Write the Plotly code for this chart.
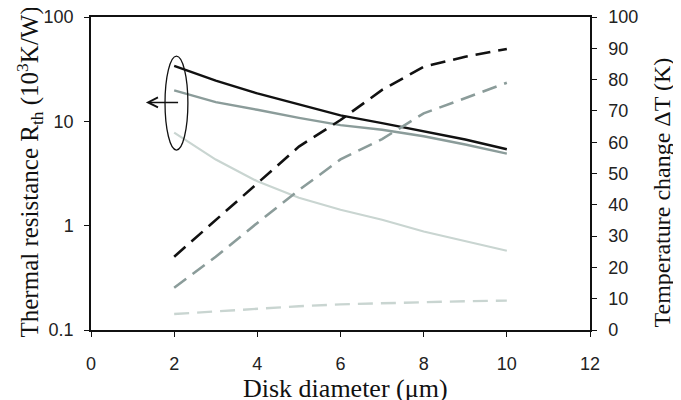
import plotly.graph_objects as go

diameter = [2, 3, 4, 5, 6, 7, 8, 9, 10]

# Thermal resistance (10^3 K/W), left log axis
rth_black = [34, 24.5, 18.5, 14.5, 11.4, 9.6, 8.0, 6.7, 5.4]
rth_gray = [19.8, 15.3, 12.9, 10.8, 9.2, 8.3, 7.2, 6.0, 4.9]
rth_light = [7.8, 4.3, 2.66, 1.85, 1.42, 1.14, 0.88, 0.71, 0.575]

# Temperature change (K), right linear axis
dt_black = [23.4, 35.1, 47.0, 58.6, 67.1, 76.7, 84.1, 87.3, 89.8]
dt_gray = [13.5, 23.4, 34.2, 44.7, 54.5, 61.0, 69.2, 74.0, 79.0]
dt_light = [5.1, 6.0, 6.9, 7.6, 8.2, 8.6, 9.0, 9.2, 9.4]

x_ticks = [0, 2, 4, 6, 8, 10, 12]
y_ticks = [0.1, 1, 10, 100]
y_tick_text = ["0.1", "1", "10", "100"]
y2_ticks = [0, 10, 20, 30, 40, 50, 60, 70, 80, 90, 100]

x_title = "Disk diameter (μm)"
y_title = "Thermal resistance R<sub>th</sub> (10<sup>3</sup>K/W)"
y2_title = "Temperature change ΔT (K)"

BLACK = "#111111"
GRAY = "#8b9c9a"
LIGHT = "#c9d5d1"
DASH = "15px,8px"

fig = go.Figure()
fig.add_trace(go.Scatter(x=diameter, y=rth_black, mode="lines",
                         line=dict(color=BLACK, width=2.4), yaxis="y"))
fig.add_trace(go.Scatter(x=diameter, y=rth_gray, mode="lines",
                         line=dict(color=GRAY, width=2.4), yaxis="y"))
fig.add_trace(go.Scatter(x=diameter, y=rth_light, mode="lines",
                         line=dict(color=LIGHT, width=2.2), yaxis="y"))
fig.add_trace(go.Scatter(x=diameter, y=dt_black, mode="lines",
                         line=dict(color=BLACK, width=2.6, dash=DASH), yaxis="y2"))
fig.add_trace(go.Scatter(x=diameter, y=dt_gray, mode="lines",
                         line=dict(color=GRAY, width=2.6, dash=DASH), yaxis="y2"))
fig.add_trace(go.Scatter(x=diameter, y=dt_light, mode="lines",
                         line=dict(color=LIGHT, width=2.4, dash=DASH), yaxis="y2"))

tickfont = dict(family="Liberation Sans, Arial", size=18, color="#222222")
SERIF = "Liberation Serif, Times New Roman"

axis_common = dict(showgrid=False, zeroline=False, showline=True, linecolor="#111111",
                   linewidth=1.5, ticks="outside", ticklen=5, tickcolor="#111111",
                   tickwidth=1.2, tickfont=tickfont, automargin=False,
                   ticklabeloverflow="allow")

# page body adds an 8px margin, so the figure is offset accordingly
fig.update_layout(
    width=673, height=392,
    margin=dict(l=83, r=91, t=9, b=70, autoexpand=False),
    paper_bgcolor="white", plot_bgcolor="white",
    showlegend=False,
    xaxis=dict(range=[0, 12], tickvals=x_ticks, mirror=True, ticklabelstandoff=12,
               **axis_common),
    yaxis=dict(type="log", range=[-1, 2], tickvals=y_ticks, ticktext=y_tick_text,
               ticklabelstandoff=7, **axis_common),
    yaxis2=dict(overlaying="y", side="right", range=[0, 100], tickvals=y2_ticks,
                ticklabelstandoff=8, **axis_common),
)

# axis titles
fig.add_annotation(text=x_title, xref="paper", yref="paper", x=0.5, y=0,
                   xshift=5, yshift=-58, xanchor="center", yanchor="middle",
                   showarrow=False, font=dict(family=SERIF, size=26, color="#111111"))
fig.add_annotation(text=y_title, xref="paper", yref="paper", x=0, y=0.5,
                   xshift=-62, yshift=1, xanchor="center", yanchor="middle",
                   textangle=-90, showarrow=False,
                   font=dict(family=SERIF, size=25, color="#111111"))
fig.add_annotation(text=y2_title, xref="paper", yref="paper", x=1, y=0.5,
                   xshift=71, yshift=-19, xanchor="center", yanchor="middle",
                   textangle=-90, showarrow=False,
                   font=dict(family=SERIF, size=24, color="#111111"))

# ellipse grouping the resistance curves, with arrow pointing to the left axis
fig.add_shape(type="circle", xref="x", yref="y2", x0=1.78, x1=2.33, y0=57.5, y1=87.5,
              line=dict(color="#111111", width=1.3))
fig.add_annotation(x=1.32, y=72.7, xref="x", yref="y2", ax=2.13, ay=72.7,
                   axref="x", ayref="y2", showarrow=True, arrowhead=5,
                   arrowsize=1.3, arrowwidth=1.5, arrowcolor="#111111", text="")

fig.write_html("out.html")
